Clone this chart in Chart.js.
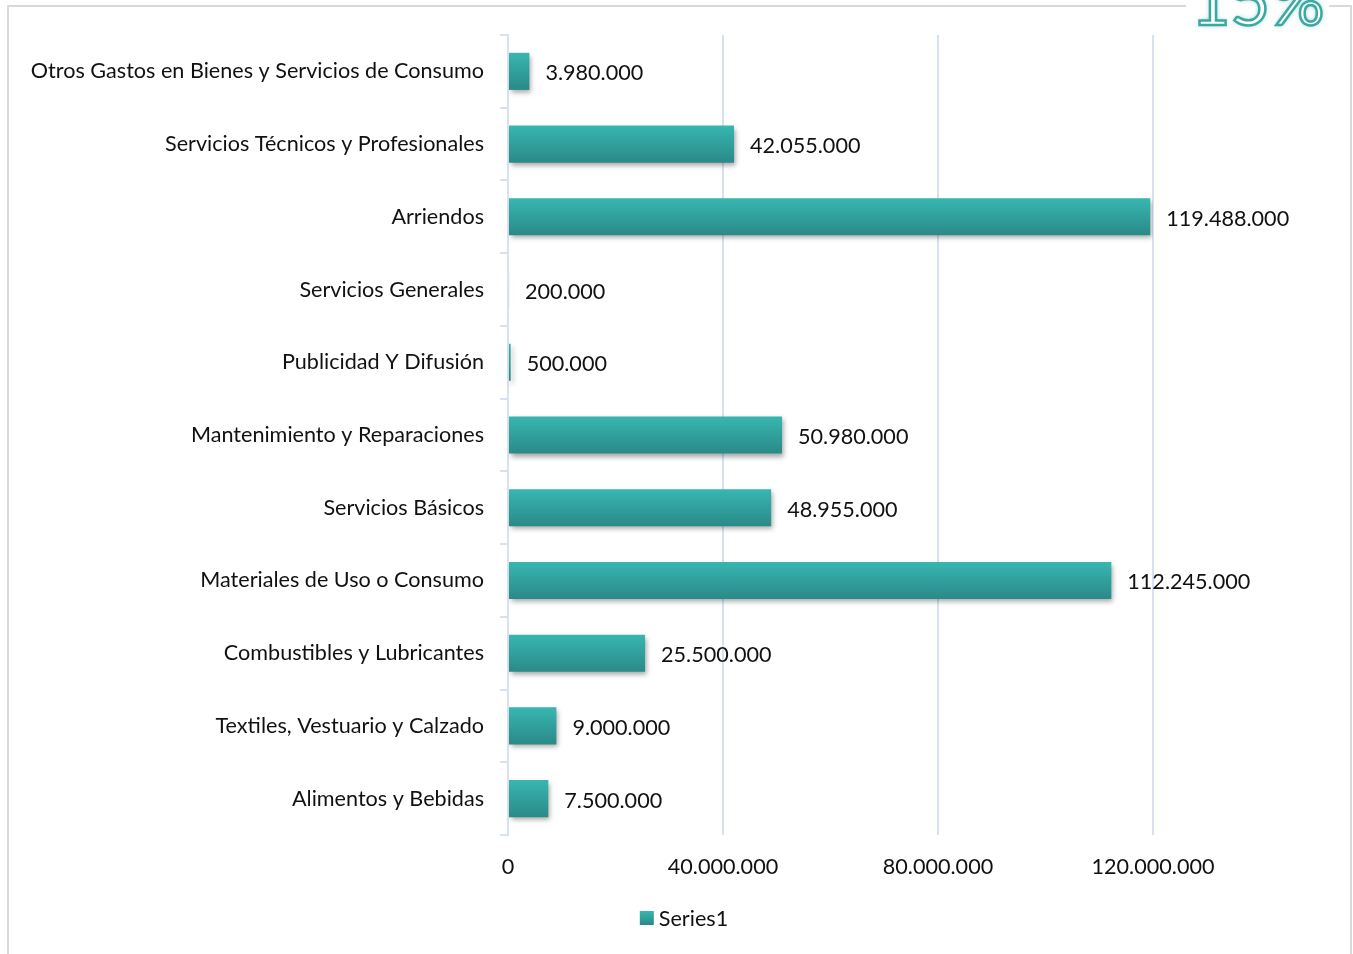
<!DOCTYPE html>
<html>
<head>
<meta charset="utf-8">
<script src="https://cdn.jsdelivr.net/npm/chart.js@4.4.0/dist/chart.umd.min.js"></script>
<style>
  body { margin: 0; background: #fff; }
  #wrap { position: relative; width: 1353px; height: 954px; overflow: hidden; }
  #frame { position: absolute; left: 7px; top: 5px; width: 1345px; height: 1000px; border: 2px solid #d9d9d9; box-sizing: border-box; }
  #pct { position: absolute; left: 1186px; top: -36px; padding: 0 5px; background: #fff; font-family: Lato, sans-serif; font-size: 68px; line-height: 70px; color: #fff;
         -webkit-text-stroke: 2.5px #3aa9a3; text-shadow: 0 0 5px rgba(58,169,163,0.7); }
  canvas { position: absolute; left: 0; top: 0; }
</style>
</head>
<body>
<div id="wrap">
  <div id="frame"></div>
  <div id="pct">15%</div>
  <canvas id="chart1" width="1353" height="954"></canvas>
</div>
<script>
  // datos
  const categorias = [
    'Otros Gastos en Bienes y Servicios de Consumo',
    'Servicios Técnicos y Profesionales',
    'Arriendos',
    'Servicios Generales',
    'Publicidad Y Difusión',
    'Mantenimiento y Reparaciones',
    'Servicios Básicos',
    'Materiales de Uso o Consumo',
    'Combustibles y Lubricantes',
    'Textiles, Vestuario y Calzado',
    'Alimentos y Bebidas'
  ];
  const valores = [3980000, 42055000, 119488000, 200000, 500000, 50980000, 48955000, 112245000, 25500000, 9000000, 7500000];
  const ticksX = [0, 40000000, 80000000, 120000000];
  const serie = 'Series1';

  const fmt = v => String(v).replace(/\B(?=(\d{3})+(?!\d))/g, '.');
  const FONT = 'Lato, sans-serif';
  const SIZE = 21.6;
  const gridColor = '#d6e2f1';

  // etiquetas al final de cada barra
  const etiquetas = {
    id: 'etiquetas',
    afterDatasetsDraw(chart) {
      const c = chart.ctx;
      const meta = chart.getDatasetMeta(0);
      c.save();
      c.font = SIZE + 'px ' + FONT;
      c.fillStyle = '#111';
      c.textBaseline = 'middle';
      meta.data.forEach((bar, i) => {
        c.fillText(fmt(valores[i]), bar.x + 16, bar.y + 2);
      });
      c.restore();
    }
  };

  // sombra de las barras
  const sombra = {
    id: 'sombra',
    beforeDatasetsDraw(chart) {
      const c = chart.ctx;
      c.save();
      c.shadowColor = 'rgba(0,0,0,0.35)';
      c.shadowBlur = 5;
      c.shadowOffsetX = 2;
      c.shadowOffsetY = 3;
    },
    afterDatasetsDraw(chart) {
      chart.ctx.restore();
    }
  };

  // leyenda centrada como en el original
  const leyenda = {
    id: 'leyenda',
    afterDraw(chart) {
      const c = chart.ctx;
      c.save();
      c.font = SIZE + 'px ' + FONT;
      const w = c.measureText(serie).width;
      const total = 14 + 5 + w;
      const x0 = 684 - total / 2;
      const yc = 918;
      const g = c.createLinearGradient(0, yc - 7, 0, yc + 7);
      g.addColorStop(0, '#38b7b1');
      g.addColorStop(1, '#2a8987');
      c.fillStyle = g;
      c.fillRect(x0, yc - 7, 14, 14);
      c.fillStyle = '#111';
      c.textBaseline = 'middle';
      c.fillText(serie, x0 + 19, yc + 1);
      c.restore();
    }
  };

  function degradado(context) {
    const chart = context.chart;
    const y = chart.scales.y;
    if (!y || context.dataIndex === undefined) return '#30a3a0';
    const cy = y.getPixelForValue(context.dataIndex);
    if (!isFinite(cy)) return '#30a3a0';
    const g = chart.ctx.createLinearGradient(0, cy - 19, 0, cy + 19);
    g.addColorStop(0, '#38b7b1');
    g.addColorStop(1, '#2a8987');
    return g;
  }

  const ctx = document.getElementById('chart1').getContext('2d');
  const chart1 = new Chart(ctx, {
    type: 'bar',
    data: {
      labels: categorias,
      datasets: [{
        label: serie,
        data: valores,
        backgroundColor: degradado,
        borderWidth: 0,
        barPercentage: 0.51,
        categoryPercentage: 1
      }]
    },
    options: {
      indexAxis: 'y',
      responsive: false,
      animation: false,
      layout: { padding: { left: 0, right: 200, top: 35, bottom: 56 } },
      scales: {
        x: {
          min: 0,
          max: 120000000,
          afterBuildTicks: s => { s.ticks = ticksX.map(v => ({ value: v })); },
          afterFit: s => { s.height = 63; },
          grid: { color: gridColor, lineWidth: 2, drawTicks: false },
          border: { display: false },
          ticks: { padding: 19, color: '#111', font: { family: FONT, size: SIZE }, callback: v => fmt(v) }
        },
        y: {
          afterFit: s => { s.width = 508; },
          grid: { color: gridColor, lineWidth: 2, drawOnChartArea: false, tickLength: 8 },
          border: { color: gridColor, width: 2 },
          ticks: { padding: 16, color: '#111', font: { family: FONT, size: SIZE } }
        }
      },
      plugins: {
        legend: { display: false },
        tooltip: { enabled: false }
      }
    },
    plugins: [sombra, etiquetas, leyenda]
  });
</script>
</body>
</html>
